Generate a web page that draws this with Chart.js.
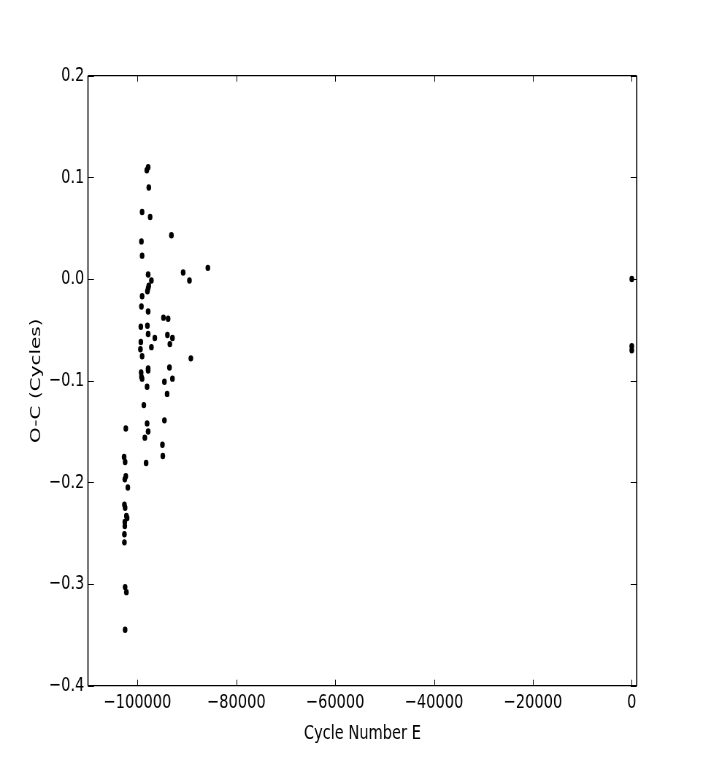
<!DOCTYPE html>
<html>
<head>
<meta charset="utf-8">
<script src="https://cdn.jsdelivr.net/npm/chart.js@4.4.0/dist/chart.umd.min.js"></script>
<style>
html,body{margin:0;padding:0;background:#fff;overflow:hidden;}
#wrap{width:708px;height:763px;overflow:hidden;}
canvas{display:block;transform:scaleX(0.73);transform-origin:0 0;}
</style>
</head>
<body>
<div id="wrap"><canvas id="c" width="970" height="763"></canvas></div>
<script>
// Cycle number E of each timing
const cycleE = [
  -97830, -98100, -97700, -99050, -97430, -93120, -99190, -99050, -85750, -90750,
  -89470, -97830, -97170, -97700, -97830, -97980, -99050, -99190, -97830, -94740,
  -93790, -99310, -97980, -97830, -96480, -93930, -92920, -99310, -93440, -99390,
  -97170, -99050, -89190, -97830, -97830, -99250, -99190, -99050, -93520, -92920,
  -94540, -98040, -93990, -98700, -94540, -98040, -102350, -97830, -98500, -94940,
  -94860, -102690, -102490, -98240, -102350, -102550, -101940, -102630, -102490, -102230,
  -102080, -102550, -102550, -102630, -102630, -102490, -102230, -102490,
  0, 0, 0
];
// O-C residuals in cycles
const oMinusC = [
  0.110, 0.107, 0.090, 0.066, 0.061, 0.043, 0.037, 0.023, 0.011, 0.0065,
  -0.0015, 0.0045, -0.0015, -0.0065, -0.009, -0.012, -0.017, -0.027, -0.032, -0.038,
  -0.039, -0.047, -0.046, -0.054, -0.058, -0.055, -0.058, -0.062, -0.064, -0.069,
  -0.067, -0.076, -0.078, -0.088, -0.090, -0.092, -0.096, -0.098, -0.087, -0.098,
  -0.101, -0.106, -0.113, -0.124, -0.139, -0.142, -0.147, -0.150, -0.156, -0.163,
  -0.174, -0.175, -0.180, -0.181, -0.194, -0.197, -0.205, -0.222, -0.225, -0.233,
  -0.235, -0.239, -0.243, -0.251, -0.259, -0.303, -0.308, -0.345,
  0.000, -0.066, -0.070
];
const xTicks = [-100000, -80000, -60000, -40000, -20000, 0];
const yTicks = [-0.4, -0.3, -0.2, -0.1, 0.0, 0.1, 0.2];
const xLabel = 'Cycle Number E';
const yLabel = 'O-C (Cycles)';

const points = cycleE.map((x, i) => ({x: x, y: oMinusC[i]}));
const FONT = {family: 'DejaVu Sans', size: 20};
const minus = s => s.replace('-', '\u2212');

const frame = {
  id: 'frame',
  afterDraw(chart) {
    const {ctx, chartArea: a, scales: {x, y}} = chart;
    const TL = 6;
    ctx.save();
    ctx.strokeStyle = '#000';
    ctx.lineWidth = 1;
    xTicks.forEach(v => {
      const px = Math.round(x.getPixelForValue(v)) + 0.5;
      ctx.beginPath();
      ctx.moveTo(px, a.bottom); ctx.lineTo(px, a.bottom - TL);
      ctx.moveTo(px, a.top); ctx.lineTo(px, a.top + TL);
      ctx.stroke();
    });
    yTicks.forEach(v => {
      const py = Math.round(y.getPixelForValue(v)) + 0.5;
      ctx.beginPath();
      ctx.moveTo(a.left, py); ctx.lineTo(a.left + TL / 0.73, py);
      ctx.moveTo(a.right, py); ctx.lineTo(a.right - TL / 0.73, py);
      ctx.stroke();
    });
    ctx.lineWidth = 1.3;
    ctx.beginPath();
    ctx.moveTo(a.left, a.top); ctx.lineTo(a.right, a.top);
    ctx.moveTo(a.left, a.bottom); ctx.lineTo(a.right, a.bottom);
    ctx.stroke();
    ctx.lineWidth = 1.6;
    ctx.beginPath();
    ctx.moveTo(a.left, a.top); ctx.lineTo(a.left, a.bottom);
    ctx.moveTo(a.right, a.top); ctx.lineTo(a.right, a.bottom);
    ctx.stroke();
    ctx.restore();
  }
};

new Chart(document.getElementById('c'), {
  type: 'scatter',
  data: {
    datasets: [{
      data: points,
      backgroundColor: '#000',
      borderWidth: 0,
      pointRadius: 3.2,
      pointHoverRadius: 3.2
    }]
  },
  options: {
    responsive: false,
    devicePixelRatio: 1,
    animation: false,
    events: [],
    layout: {padding: {left: 0, top: 75.7, right: 97.8, bottom: 0}},
    plugins: {legend: {display: false}, tooltip: {enabled: false}},
    scales: {
      x: {
        type: 'linear',
        min: -110000,
        max: 1000,
        grid: {display: false, drawTicks: false},
        border: {display: false},
        afterFit: s => { s.height = 77.3; },
        afterBuildTicks: s => { s.ticks = xTicks.map(v => ({value: v})); },
        ticks: {
          color: '#000',
          font: FONT,
          padding: 5,
          maxRotation: 0,
          autoSkip: false,
          callback: v => minus(String(v))
        },
        title: {display: true, text: xLabel, color: '#000', font: FONT, padding: {top: 0, bottom: 17}}
      },
      y: {
        type: 'linear',
        min: -0.4,
        max: 0.2,
        grid: {display: false, drawTicks: false},
        border: {display: false},
        afterFit: s => { s.width = 120.5; },
        afterBuildTicks: s => { s.ticks = yTicks.map(v => ({value: v})); },
        ticks: {
          color: '#000',
          font: FONT,
          padding: 5,
          autoSkip: false,
          callback: v => minus(v.toFixed(1))
        },
        title: {display: true, text: yLabel, color: '#000', font: FONT, padding: {top: 37.3, bottom: 0}}
      }
    }
  },
  plugins: [frame]
});
</script>
</body>
</html>
